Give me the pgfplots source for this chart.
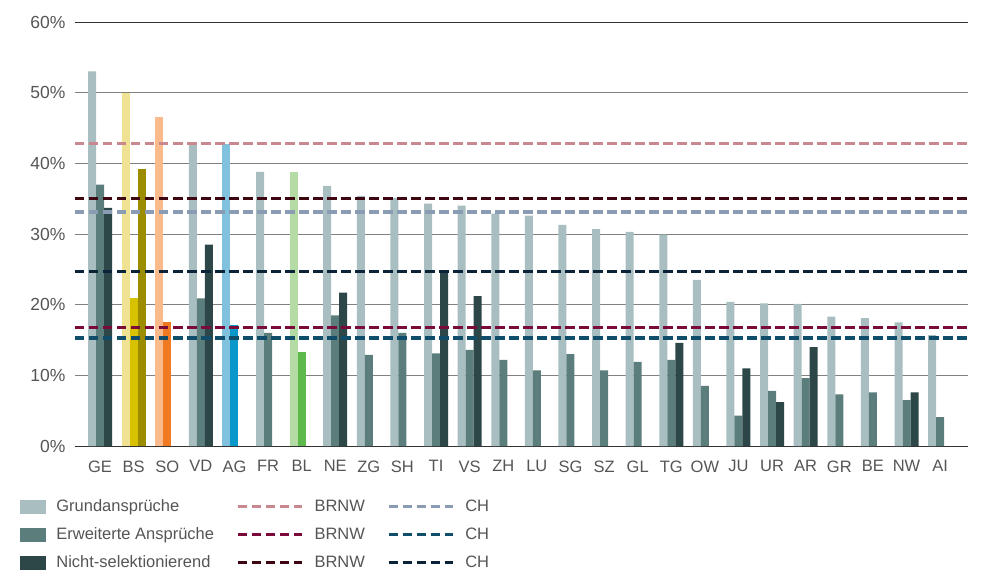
\documentclass[border=0pt]{standalone}
\usepackage{pgfplots}
\pgfplotsset{compat=1.18}
\usepackage{fontspec}
\setmainfont{Liberation Sans}
\definecolor{txt}{HTML}{555555}
\definecolor{cG}{HTML}{A9BEC0}
\definecolor{cE}{HTML}{5B7E7D}
\definecolor{cN}{HTML}{2D4647}
\definecolor{bsG}{HTML}{EFE293}
\definecolor{bsE}{HTML}{D8C200}
\definecolor{bsN}{HTML}{9C8C00}
\definecolor{soG}{HTML}{FBBA8C}
\definecolor{soE}{HTML}{F07A22}
\definecolor{agG}{HTML}{80C1DE}
\definecolor{agE}{HTML}{0A97C9}
\definecolor{blG}{HTML}{B4DBA4}
\definecolor{blE}{HTML}{5DB94C}
\definecolor{lBG}{HTML}{C9878F}
\definecolor{lCG}{HTML}{8A9CB4}
\definecolor{lBE}{HTML}{7B0A3A}
\definecolor{lCE}{HTML}{0F4D6B}
\definecolor{lBN}{HTML}{3E0610}
\definecolor{lCN}{HTML}{0B2339}
\definecolor{grd}{HTML}{808080}
\begin{document}
\begin{tikzpicture}
\begin{axis}[
  scale only axis,
  width=893bp, height=424bp,
  xmin=-0.744, xmax=25.83,
  ymin=0, ymax=60,
  ytick={0,10,20,30,40,50,60},
  yticklabel={\pgfmathprintnumber{\tick}\%},
  /pgf/number format/assume math mode=true,
  xtick={0,...,25},
  xticklabels={GE,BS,SO,VD,AG,FR,BL,NE,ZG,SH,TI,VS,ZH,LU,SG,SZ,GL,TG,OW,JU,UR,AR,GR,BE,NW,AI},
  major tick length=0pt,
  axis line style={draw=none},
  ymajorgrids,
  grid style={grd, line width=0.9bp},
  extra y ticks={0,60},
  extra y tick labels={},
  extra y tick style={grid style={black!80, line width=0.9bp}},
  tick label style={font=\fontsize{16.5bp}{19bp}\selectfont, text=txt},
  yticklabel style={xshift=-6bp, font=\fontsize{17.5bp}{20bp}\selectfont},
  xticklabel style={yshift=-11bp},
  legend columns=3,
  legend cell align=left,
  legend style={draw=none, fill=none, inner sep=0pt, outer sep=0pt,
    at={(rel axis cs:0,0)}, anchor=north west, xshift=-55bp, yshift=-52bp,
    font=\fontsize{16.5bp}{19bp}\selectfont, text=txt, row sep=10.5bp,
    /tikz/every odd column/.append style={column sep=9bp},
    /tikz/every even column/.append style={column sep=20bp}},
  bar width=8bp,
]
% Grundanspruche (standard colour)
\addplot[ybar, bar shift=-8bp, fill=cG, draw=none, forget plot] coordinates {
 (0,53.0) (3,43.0) (5,38.8) (7,36.8) (8,35.4) (9,35.1) (10,34.3) (11,34.0)
 (12,32.9) (13,32.6) (14,31.3) (15,30.7) (16,30.3) (17,29.9) (18,23.5)
 (19,20.4) (20,20.2) (21,20.1) (22,18.3) (23,18.1) (24,17.5) (25,15.7)};
% Erweiterte Anspruche
\addplot[ybar, bar shift=0bp, fill=cE, draw=none, forget plot] coordinates {
 (0,37.0) (3,20.9) (5,16.0) (7,18.5) (8,12.9) (9,16.0) (10,13.1) (11,13.6)
 (12,12.2) (13,10.7) (14,13.0) (15,10.7) (16,11.9) (17,12.2) (18,8.5)
 (19,4.3) (20,7.8) (21,9.6) (22,7.3) (23,7.6) (24,6.5) (25,4.1)};
% Nicht-selektionierend
\addplot[ybar, bar shift=8bp, fill=cN, draw=none, forget plot] coordinates {
 (0,33.7) (3,28.5) (7,21.7) (10,24.8) (11,21.2) (17,14.6) (19,11.0)
 (20,6.2) (21,14.0) (24,7.6)};
% BS
\addplot[ybar, bar shift=-8bp, fill=bsG, draw=none, forget plot] coordinates {(1,50.0)};
\addplot[ybar, bar shift=0bp, fill=bsE, draw=none, forget plot] coordinates {(1,20.9)};
\addplot[ybar, bar shift=8bp, fill=bsN, draw=none, forget plot] coordinates {(1,39.2)};
% SO
\addplot[ybar, bar shift=-8bp, fill=soG, draw=none, forget plot] coordinates {(2,46.5)};
\addplot[ybar, bar shift=0bp, fill=soE, draw=none, forget plot] coordinates {(2,17.5)};
% AG
\addplot[ybar, bar shift=-8bp, fill=agG, draw=none, forget plot] coordinates {(4,42.7)};
\addplot[ybar, bar shift=0bp, fill=agE, draw=none, forget plot] coordinates {(4,17.1)};
% BL
\addplot[ybar, bar shift=-8bp, fill=blG, draw=none, forget plot] coordinates {(6,38.8)};
\addplot[ybar, bar shift=0bp, fill=blE, draw=none, forget plot] coordinates {(6,13.3)};
% reference lines
\addplot[lBG, line width=3.4bp, dash pattern=on 9.5bp off 4.5bp, forget plot] coordinates {(-0.744,42.8) (25.83,42.8)};
\addplot[lCG, line width=3.4bp, dash pattern=on 9.5bp off 4.5bp, forget plot] coordinates {(-0.744,33.1) (25.83,33.1)};
\addplot[lBE, line width=3.4bp, dash pattern=on 9.5bp off 4.5bp, forget plot] coordinates {(-0.744,16.8) (25.83,16.8)};
\addplot[lCE, line width=3.4bp, dash pattern=on 9.5bp off 4.5bp, forget plot] coordinates {(-0.744,15.3) (25.83,15.3)};
\addplot[lBN, line width=3.4bp, dash pattern=on 9.5bp off 4.5bp, forget plot] coordinates {(-0.744,35.0) (25.83,35.0)};
\addplot[lCN, line width=3.4bp, dash pattern=on 9.5bp off 4.5bp, forget plot] coordinates {(-0.744,24.7) (25.83,24.7)};
% legend
\addlegendimage{legend image code/.code={\fill[cG] (0bp,-6.5bp) rectangle (25bp,6.5bp);}}
\addlegendentry{Grundansprüche}
\addlegendimage{legend image code/.code={\draw[lBG, line width=3.4bp, dash pattern=on 9.5bp off 4.5bp] (0bp,0bp) -- (64bp,0bp);}}
\addlegendentry{BRNW}
\addlegendimage{legend image code/.code={\draw[lCG, line width=3.4bp, dash pattern=on 9.5bp off 4.5bp] (0bp,0bp) -- (64bp,0bp);}}
\addlegendentry{CH}
\addlegendimage{legend image code/.code={\fill[cE] (0bp,-6.5bp) rectangle (25bp,6.5bp);}}
\addlegendentry{Erweiterte Ansprüche}
\addlegendimage{legend image code/.code={\draw[lBE, line width=3.4bp, dash pattern=on 9.5bp off 4.5bp] (0bp,0bp) -- (64bp,0bp);}}
\addlegendentry{BRNW}
\addlegendimage{legend image code/.code={\draw[lCE, line width=3.4bp, dash pattern=on 9.5bp off 4.5bp] (0bp,0bp) -- (64bp,0bp);}}
\addlegendentry{CH}
\addlegendimage{legend image code/.code={\fill[cN] (0bp,-6.5bp) rectangle (25bp,6.5bp);}}
\addlegendentry{Nicht-selektionierend}
\addlegendimage{legend image code/.code={\draw[lBN, line width=3.4bp, dash pattern=on 9.5bp off 4.5bp] (0bp,0bp) -- (64bp,0bp);}}
\addlegendentry{BRNW}
\addlegendimage{legend image code/.code={\draw[lCN, line width=3.4bp, dash pattern=on 9.5bp off 4.5bp] (0bp,0bp) -- (64bp,0bp);}}
\addlegendentry{CH}
\end{axis}
\pgfresetboundingbox
\path (current axis.south west) ++(-75bp,-125bp) rectangle ++(983bp,571bp);
\end{tikzpicture}
\end{document}
